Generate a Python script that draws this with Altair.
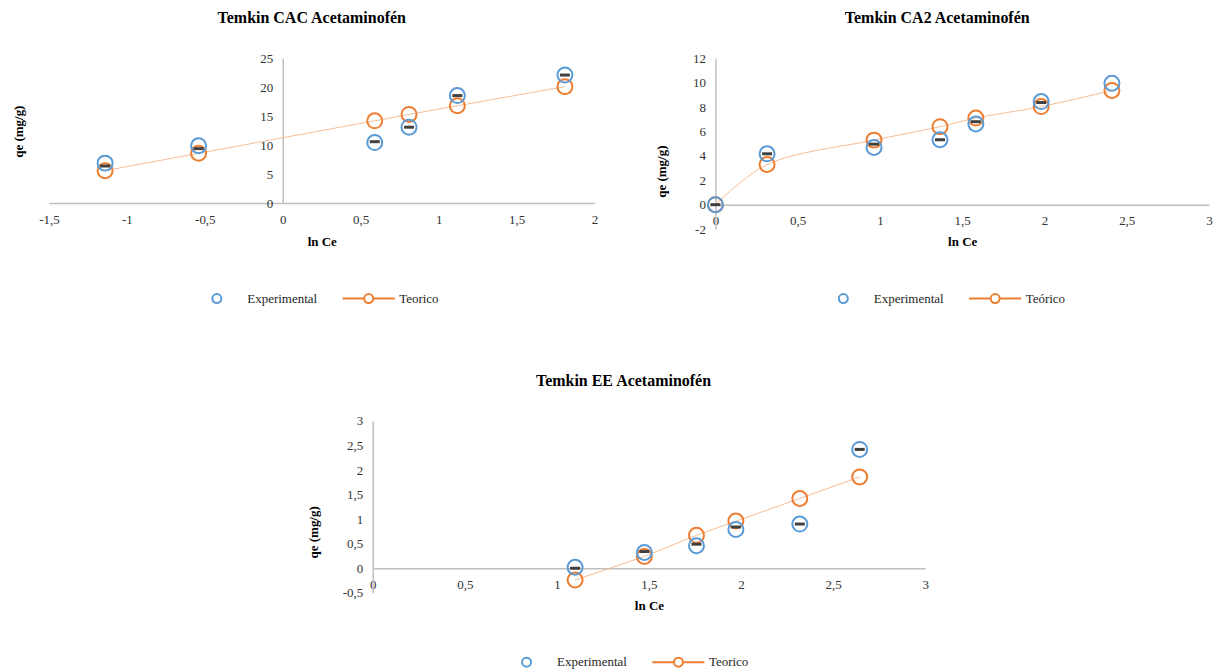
import altair as alt
import pandas as pd

BLUE = "#5B9BD5"
ORANGE = "#ED7D31"
LINE = "#F5BD95"
DASH = "#404040"
FONT = "Liberation Serif"

# ---- Temkin CAC ----
cac_x = [-1.14, -0.54, 0.59, 0.81, 1.12, 1.81]
cac_exp = [6.9, 9.9, 10.45, 13.1, 18.55, 22.1]
cac_teo = [5.6, 8.6, 14.2, 15.3, 16.8, 20.1]
cac_dash_x = [-1.14, -0.54, 0.59, 0.81, 1.12, 1.81]
cac_dash = [6.4, 9.4, 10.6, 13.1, 18.55, 22.1]

# ---- Temkin CA2 ----
ca2_x = [0.0, 0.314, 0.964, 1.365, 1.583, 1.98, 2.41]
ca2_exp = [0.0, 4.17, 4.69, 5.32, 6.61, 8.45, 9.95]
ca2_teo = [0.0, 3.29, 5.29, 6.39, 7.1, 8.04, 9.36]
ca2_dash_x = [0.0, 0.314, 0.964, 1.365, 1.583, 1.98]
ca2_dash = [0.0, 4.17, 4.96, 5.32, 6.8, 8.37]

# ---- Temkin EE ----
ee_x = [1.099, 1.475, 1.758, 1.972, 2.319, 2.644]
ee_exp = [0.02, 0.32, 0.46, 0.79, 0.90, 2.42]
ee_teo = [-0.24, 0.24, 0.67, 0.96, 1.42, 1.86]
ee_dash_x = [1.099, 1.475, 1.758, 1.972, 2.319, 2.644]
ee_dash = [0.0, 0.34, 0.49, 0.84, 0.90, 2.42]

TEO_SYMBOL = "M-5.8,0L-1,0M1,0L5.8,0M-1,0A1,1,0,1,0,1,0A1,1,0,1,0,-1,0"
LABEL_EXPR = "replace(toString(datum.value), '.', ',')"


def panel(name, xs, exp, teo, dash_x, dash_y, teo_label, xdom, ydom, xticks, yticks,
          w, h, title_dx, ytx, yty, xty, lx, ly, interp):
    yoff = -(0 - xdom[0]) / (xdom[1] - xdom[0]) * w
    xoff = -(0 - ydom[0]) / (ydom[1] - ydom[0]) * h
    xax = alt.Axis(values=xticks, offset=xoff, labelExpr=LABEL_EXPR, title="ln Ce",
                   titleX=w / 2, titleY=xty, titleAlign="center", titleBaseline="middle",
                   labelFlush=False, labelOverlap=False, labelPadding=10)
    yax = alt.Axis(values=yticks, offset=yoff, labelExpr=LABEL_EXPR, title="qe (mg/g)",
                   titleX=ytx, titleY=yty, titleAngle=270, titleAlign="center",
                   titleBaseline="middle", labelOverlap=False, labelPadding=10)
    X = alt.X("x:Q", scale=alt.Scale(domain=xdom, nice=False, zero=False), axis=xax)
    Y = alt.Y("y:Q", scale=alt.Scale(domain=ydom, nice=False, zero=False), axis=yax)

    d_exp = pd.DataFrame({"x": xs, "y": exp})
    d_teo = pd.DataFrame({"x": xs, "y": teo})
    d_dash = pd.DataFrame({"x": dash_x, "y": dash_y})
    d_leg = pd.DataFrame({"x": [xs[0], xs[0]], "y": [exp[0], exp[0]],
                          "serie": ["Experimental", teo_label]})

    legend = alt.Legend(title=None, orient="none", legendX=lx, legendY=ly,
                        direction="horizontal", symbolSize=81, symbolStrokeWidth=2,
                        labelOffset=24, columnPadding=20, labelFont=FONT,
                        labelFontSize=13, labelColor="#262626")
    dom = ["Experimental", teo_label]

    line = alt.Chart(d_teo).mark_line(color=LINE, strokeWidth=1, interpolate=interp).encode(x=X, y=Y)
    pts_teo = alt.Chart(d_teo).mark_point(filled=False, color=ORANGE, size=225,
                                          strokeWidth=2, opacity=1).encode(x=X, y=Y)
    pts_exp = alt.Chart(d_exp).mark_point(filled=False, color=BLUE, size=225,
                                          strokeWidth=2, opacity=1).encode(x=X, y=Y)
    dash = alt.Chart(d_dash).mark_tick(orient="horizontal", size=10, thickness=3,
                                       color=DASH, opacity=1).encode(x=X, y=Y)
    leg = alt.Chart(d_leg).transform_filter("false").mark_point(
        filled=False, size=81, strokeWidth=2, opacity=1).encode(
        x=X, y=Y,
        color=alt.Color("serie:N", scale=alt.Scale(domain=dom, range=[BLUE, ORANGE]), legend=legend),
        shape=alt.Shape("serie:N", scale=alt.Scale(domain=dom, range=["circle", TEO_SYMBOL]), legend=legend),
    )
    return alt.layer(line, pts_teo, pts_exp, dash, leg).properties(
        width=w, height=h,
        title=alt.TitleParams(name, dx=title_dx, offset=18, anchor="middle",
                              frame="group", baseline="middle"),
    )


p1 = panel("Temkin CAC Acetaminofén", cac_x, cac_exp, cac_teo, cac_dash_x, cac_dash, "Teorico",
           [-1.5, 2], [0, 25], [-1.5, -1, -0.5, 0, 0.5, 1, 1.5, 2], [0, 5, 10, 15, 20, 25],
           546, 145, -10, -264.5, 73, 38, 161.5, 234, "linear")
p2 = panel("Temkin CA2 Acetaminofén", ca2_x, ca2_exp, ca2_teo, ca2_dash_x, ca2_dash, "Teórico",
           [0, 3], [-2, 12], [0, 0.5, 1, 1.5, 2, 2.5, 3], [-2, 0, 2, 4, 6, 8, 10, 12],
           494, 171, -25, -54, 113, 36.4, 121.5, 234, "catmull-rom")
p3 = panel("Temkin EE Acetaminofén", ee_x, ee_exp, ee_teo, ee_dash_x, ee_dash, "Teorico",
           [0, 3], [-0.5, 3], [0, 0.5, 1, 1.5, 2, 2.5, 3], [-0.5, 0, 0.5, 1, 1.5, 2, 2.5, 3],
           553, 172, -25.5, -59.5, 111, 37.3, 147.5, 235, "linear")

spacer = alt.Chart(pd.DataFrame({"x": [0]})).mark_point(opacity=0).encode(
    x=alt.X("x:Q", axis=None), y=alt.Y("x:Q", axis=None)
).properties(width=202.5, height=1)


def indep(c):
    return c.resolve_scale(
        color="independent", shape="independent", x="independent", y="independent"
    ).resolve_legend(color="independent", shape="independent")


row1 = indep(alt.hconcat(p1, p2, spacing=121, bounds="flush"))
row2 = indep(alt.hconcat(spacer, p3, spacing=121, bounds="flush"))

chart = indep(alt.vconcat(row1, row2, spacing=363, bounds="flush")).properties(
    padding={"left": 4, "top": 2, "right": 0, "bottom": 0}, background="white"
).configure_view(stroke=None).configure_axis(
    domainColor="#BFBFBF", domainWidth=1.5, ticks=False, tickSize=0, grid=False,
    labelFont=FONT, labelFontSize=13, labelColor="#333333",
    titleFont=FONT, titleFontSize=13, titleFontWeight="bold", titleColor="#000000",
).configure_title(
    font=FONT, fontSize=16, fontWeight="bold", color="#000000"
).configure_legend(labelFont=FONT, labelFontSize=13)

chart.save("out.html", embed_options={"renderer": "svg", "actions": False})
